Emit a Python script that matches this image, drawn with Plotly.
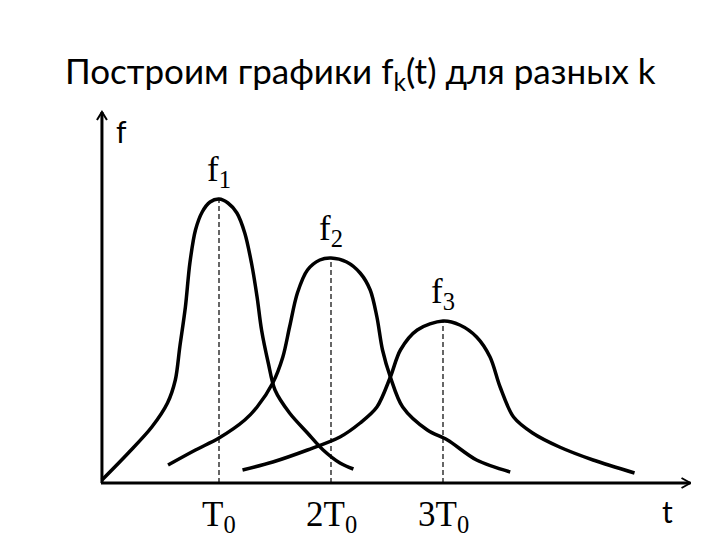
import plotly.graph_objects as go

# ---- data (t in units of T0, f in arbitrary units) ----
f1_t = [-0.045, 0.19, 0.40, 0.54, 0.61, 0.65, 0.70, 0.74, 0.79, 0.85, 0.92, 1.00, 1.08, 1.16, 1.23, 1.29, 1.34, 1.38, 1.44, 1.50, 1.63, 1.79, 1.93, 2.08, 2.20]
f1_v = [0.03, 0.30, 0.56, 0.80, 1.03, 1.36, 1.76, 2.20, 2.53, 2.71, 2.81, 2.84, 2.80, 2.70, 2.50, 2.20, 1.86, 1.53, 1.20, 0.93, 0.70, 0.50, 0.33, 0.20, 0.14]

f2_t = [0.545, 0.79, 1.00, 1.23, 1.34, 1.48, 1.57, 1.63, 1.70, 1.79, 1.90, 2.00, 2.14, 2.26, 2.35, 2.41, 2.46, 2.53, 2.64, 2.86, 3.04, 3.30, 3.60]
f2_v = [0.18, 0.33, 0.45, 0.63, 0.76, 1.00, 1.26, 1.56, 1.90, 2.13, 2.23, 2.25, 2.21, 2.10, 1.93, 1.66, 1.33, 1.06, 0.76, 0.53, 0.43, 0.23, 0.11]

f3_t = [1.21, 1.48, 1.79, 2.08, 2.26, 2.41, 2.53, 2.62, 2.77, 3.00, 3.15, 3.30, 3.42, 3.51, 3.63, 3.80, 4.04, 4.34, 4.71]
f3_v = [0.13, 0.21, 0.33, 0.46, 0.60, 0.76, 1.06, 1.33, 1.53, 1.62, 1.58, 1.46, 1.26, 0.96, 0.66, 0.50, 0.36, 0.23, 0.10]

peak_t = [1, 2, 3]
peak_f = [2.84, 2.25, 1.62]
curve_labels = ["f<sub>1</sub>", "f<sub>2</sub>", "f<sub>3</sub>"]
tick_labels = ["T<sub>0</sub>", "2T<sub>0</sub>", "3T<sub>0</sub>"]
title_text = "Построим графики f<sub>k</sub>(t) для разных k"
axis_t_end = 5.21
axis_f_end = 3.71
axis_start = -0.054

# ---- layout scale ----
PX_T = 112.0   # pixels per unit t
PX_F = 100.0   # pixels per unit f
X0, Y0 = 107, 483  # pixel of t=0, f=0
W, H = 720, 540
x_range = [-X0 / PX_T, (W - X0) / PX_T]
y_range = [-(H - Y0) / PX_F, Y0 / PX_F]
dt = 1 / PX_T
df = 1 / PX_F

fig = go.Figure()

line_style = dict(color="black", width=3.5, shape="spline", smoothing=0.9)
for tt, vv in [(f1_t, f1_v), (f2_t, f2_v), (f3_t, f3_v)]:
    fig.add_trace(go.Scatter(x=tt, y=vv, mode="lines", line=line_style, hoverinfo="skip"))

# dashed guide lines
for t, p in zip(peak_t, peak_f):
    fig.add_trace(go.Scatter(x=[t, t], y=[0, p], mode="lines",
                             line=dict(color="black", width=1.2, dash="5px,3px"), hoverinfo="skip"))

# axes
ax_style = dict(color="black", width=3)
yx = axis_start + 1 * dt
fig.add_trace(go.Scatter(x=[axis_start, axis_t_end], y=[0, 0], mode="lines", line=ax_style, hoverinfo="skip"))
fig.add_trace(go.Scatter(x=[yx, yx], y=[0, axis_f_end], mode="lines", line=ax_style, hoverinfo="skip"))
# open arrow heads
fig.add_trace(go.Scatter(x=[axis_t_end - 9 * dt, axis_t_end, axis_t_end - 9 * dt],
                         y=[5 * df, 0, -5 * df], mode="lines", line=dict(color="black", width=2), hoverinfo="skip"))
fig.add_trace(go.Scatter(x=[yx - 5 * dt, yx, yx + 5 * dt],
                         y=[axis_f_end - 8 * df, axis_f_end, axis_f_end - 8 * df], mode="lines",
                         line=dict(color="black", width=2), hoverinfo="skip"))

serif = "Liberation Serif"
sans = "Lato"

for t, p, lab in zip(peak_t, peak_f, curve_labels):
    fig.add_annotation(x=t, y=p, text=lab, showarrow=False, xanchor="center", yanchor="bottom",
                       yshift=4, font=dict(family=serif, size=35, color="black"))

for t, lab in zip(peak_t, tick_labels):
    fig.add_annotation(x=t, y=0, text=lab, showarrow=False, xanchor="center", yanchor="top",
                       yshift=-10, font=dict(family=serif, size=35, color="black"))

fig.add_annotation(x=5.0, y=0, text="t", showarrow=False, xanchor="center", yanchor="top",
                   yshift=-8, font=dict(family=sans, size=30, color="black"))
fig.add_annotation(x=0.125, y=3.72, text="f", showarrow=False, xanchor="center", yanchor="top",
                   yshift=0, font=dict(family=sans, size=30, color="black"))

fig.add_annotation(x=0.5, y=1.0, xref="paper", yref="paper", text=title_text, showarrow=False,
                   xanchor="center", yanchor="top", yshift=-47,
                   font=dict(family=sans, size=35, color="black"))

fig.update_layout(width=W, height=H, margin=dict(l=0, r=0, t=0, b=0),
                  plot_bgcolor="white", paper_bgcolor="white", showlegend=False)
fig.update_xaxes(range=x_range, visible=False, fixedrange=True)
fig.update_yaxes(range=y_range, visible=False, fixedrange=True)

fig.write_html("out.html", config={"displayModeBar": False},
               post_script="document.body.style.margin='0';document.body.style.padding='0';")
